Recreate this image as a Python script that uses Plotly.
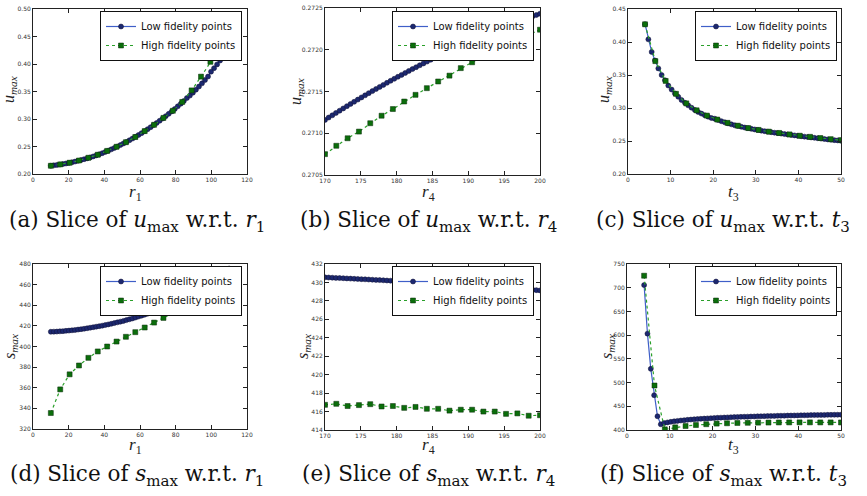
import numpy as np
import plotly.graph_objects as go

# ---------------- data ----------------
r1_low = np.linspace(10, 110, 60)
r1_high = np.linspace(10, 110, 20)
r4_low = np.linspace(170, 200, 60)
r4_high = np.linspace(170, 200, 20)
t3_low = np.linspace(4, 50, 60)
t3_high = np.linspace(4, 50, 20)

# (a) u_max vs r1
umax_r1_low = [0.2150, 0.2157, 0.2164, 0.2172, 0.2181, 0.2191, 0.2201, 0.2213, 0.2226, 0.2240,
               0.2254, 0.2269, 0.2284, 0.2301, 0.2319, 0.2338, 0.2358, 0.2379, 0.2401, 0.2424,
               0.2448, 0.2473, 0.2499, 0.2526, 0.2554, 0.2583, 0.2613, 0.2644, 0.2676, 0.2709,
               0.2743, 0.2778, 0.2814, 0.2851, 0.2889, 0.2928, 0.2968, 0.3009, 0.3051, 0.3094,
               0.3138, 0.3183, 0.3230, 0.3278, 0.3328, 0.3380, 0.3425, 0.3478, 0.3533, 0.3590,
               0.3648, 0.3709, 0.3772, 0.3860, 0.3925, 0.3993, 0.4063, 0.4135, 0.4210, 0.4288]
umax_r1_high = [0.2150, 0.2175, 0.2205, 0.2245, 0.2295, 0.2350, 0.2420, 0.2495, 0.2578, 0.2672,
                0.2780, 0.2895, 0.3020, 0.3150, 0.3310, 0.3520, 0.3770, 0.4040, 0.4290, 0.4600]

# (b) u_max vs r4
umax_r4_low = [0.271160, 0.271188, 0.271215, 0.271243, 0.271270, 0.271297, 0.271324, 0.271351,
               0.271377, 0.271403, 0.271429, 0.271454, 0.271480, 0.271505, 0.271530, 0.271555,
               0.271579, 0.271604, 0.271628, 0.271652, 0.271676, 0.271699, 0.271722, 0.271746,
               0.271769, 0.271791, 0.271814, 0.271836, 0.271858, 0.271880, 0.271901, 0.271923,
               0.271944, 0.271965, 0.271986, 0.272006, 0.272026, 0.272046, 0.272066, 0.272086,
               0.272105, 0.272124, 0.272143, 0.272162, 0.272180, 0.272199, 0.272217, 0.272235,
               0.272253, 0.272270, 0.272288, 0.272304, 0.272321, 0.272338, 0.272354, 0.272370,
               0.272386, 0.272402, 0.272417, 0.272432]
umax_r4_high = [0.27075, 0.27085, 0.27094, 0.27102, 0.27112, 0.27121, 0.27129, 0.27138, 0.27146, 0.27154,
                0.27162, 0.27169, 0.27178, 0.27185, 0.27192, 0.27198, 0.27205, 0.27212, 0.27218, 0.27224]

# (c) u_max vs t3
umax_t3_low = [0.4270, 0.4040, 0.3850, 0.3720, 0.3600, 0.3500, 0.3420, 0.3340, 0.3280, 0.3220,
               0.3170, 0.3120, 0.3080, 0.3040, 0.3005, 0.2970, 0.2940, 0.2915, 0.2890, 0.2868,
               0.2848, 0.2838, 0.2818, 0.2800, 0.2783, 0.2767, 0.2752, 0.2738, 0.2726, 0.2715,
               0.2704, 0.2694, 0.2684, 0.2675, 0.2666, 0.2657, 0.2649, 0.2641, 0.2633, 0.2626,
               0.2619, 0.2612, 0.2605, 0.2598, 0.2591, 0.2585, 0.2578, 0.2572, 0.2566, 0.2560,
               0.2554, 0.2548, 0.2542, 0.2536, 0.2530, 0.2524, 0.2518, 0.2513, 0.2509, 0.2504]
umax_t3_high = [0.4268, 0.3710, 0.3410, 0.3215, 0.3070, 0.2965, 0.2885, 0.2825, 0.2775, 0.2732,
                0.2696, 0.2668, 0.2642, 0.2622, 0.2600, 0.2580, 0.2563, 0.2545, 0.2528, 0.2514]

# (d) s_max vs r1
smax_r1_low = [414.3, 414.4, 414.5, 414.7, 414.9, 415.2, 415.4, 415.7, 416.0, 416.4,
               416.8, 417.2, 417.7, 418.2, 418.7, 419.2, 419.7, 420.2, 420.8, 421.4,
               422.0, 422.7, 423.4, 424.1, 424.8, 425.6, 426.4, 427.2, 428.1, 429.0,
               429.9, 430.8, 431.8, 432.8, 433.8, 434.8, 435.9, 437.0, 438.1, 439.3,
               440.5, 441.7, 443.0, 444.3, 445.7, 447.1, 448.6, 450.1, 451.7, 453.4,
               455.1, 456.9, 458.8, 460.8, 462.9, 465.1, 467.4, 469.8, 472.4, 475.6]
smax_r1_high = [335.5, 358.4, 373.0, 381.6, 389.0, 395.2, 400.0, 404.8, 409.4, 413.9,
                418.4, 423.2, 427.7, 432.6, 437.7, 443.5, 449.5, 456.0, 463.0, 471.0]

# (e) s_max vs r4
smax_r4_low = [430.550, 430.532, 430.513, 430.494, 430.475, 430.456, 430.437, 430.417, 430.397, 430.378,
               430.357, 430.337, 430.317, 430.296, 430.275, 430.254, 430.233, 430.211, 430.190, 430.168,
               430.146, 430.123, 430.101, 430.078, 430.056, 430.033, 430.009, 429.986, 429.963, 429.939,
               429.915, 429.891, 429.866, 429.842, 429.817, 429.792, 429.767, 429.742, 429.716, 429.691,
               429.665, 429.639, 429.613, 429.586, 429.560, 429.533, 429.506, 429.479, 429.451, 429.424,
               429.396, 429.368, 429.340, 429.311, 429.283, 429.254, 429.225, 429.196, 429.167, 429.137]
smax_r4_high = [416.73, 416.84, 416.60, 416.70, 416.80, 416.55, 416.60, 416.40, 416.50, 416.30,
                416.30, 416.10, 416.20, 416.20, 416.00, 416.00, 415.75, 415.80, 415.55, 415.60]

# (f) s_max vs t3
smax_t3_low = [705.5, 603.2, 529.0, 473.4, 429.0, 412.0, 414.5, 416.0, 417.2, 418.3,
               419.2, 420.0, 420.7, 421.4, 422.0, 422.6, 423.1, 423.6, 424.1, 424.5,
               424.9, 425.3, 425.7, 426.0, 426.3, 426.6, 426.9, 427.2, 427.5, 427.7,
               428.0, 428.2, 428.4, 428.6, 428.8, 429.0, 429.2, 429.4, 429.6, 429.7,
               429.9, 430.1, 430.2, 430.4, 430.5, 430.7, 430.8, 431.0, 431.1, 431.2,
               431.4, 431.5, 431.6, 431.7, 431.8, 431.9, 432.0, 432.1, 432.2, 432.3]
smax_t3_high = [725.3, 493.8, 401.4, 405.6, 408.4, 410.5, 412.2, 413.5, 414.2, 414.8,
                415.2, 415.5, 415.7, 415.9, 416.0, 416.1, 416.1, 416.0, 416.0, 415.9]

captions = [
    "(a) Slice of <i>u</i><sub>max</sub> w.r.t. <i>r</i><sub>1</sub>",
    "(b) Slice of <i>u</i><sub>max</sub> w.r.t. <i>r</i><sub>4</sub>",
    "(c) Slice of <i>u</i><sub>max</sub> w.r.t. <i>t</i><sub>3</sub>",
    "(d) Slice of <i>s</i><sub>max</sub> w.r.t. <i>r</i><sub>1</sub>",
    "(e) Slice of <i>s</i><sub>max</sub> w.r.t. <i>r</i><sub>4</sub>",
    "(f) Slice of <i>s</i><sub>max</sub> w.r.t. <i>t</i><sub>3</sub>",
]
x_titles = ["<i>r</i><sub>1</sub>", "<i>r</i><sub>4</sub>", "<i>t</i><sub>3</sub>"] * 2
y_titles = ["<i>u<sub>max</sub></i>"] * 3 + ["<i>s<sub>max</sub></i>"] * 3
low_name = "Low fidelity points"
high_name = "High fidelity points"

panels = [
    (r1_low, umax_r1_low, r1_high, umax_r1_high),
    (r4_low, umax_r4_low, r4_high, umax_r4_high),
    (t3_low, umax_t3_low, t3_high, umax_t3_high),
    (r1_low, smax_r1_low, r1_high, smax_r1_high),
    (r4_low, smax_r4_low, r4_high, smax_r4_high),
    (t3_low, smax_t3_low, t3_high, smax_t3_high),
]

# ---------------- layout / styling ----------------
W, H = 867, 496
px_x = [(33, 247), (325, 540), (628, 841), (33, 247), (325, 540), (627, 841)]
px_y = [(9, 174), (8, 175), (9, 174), (264, 429), (264, 430), (264, 430)]
x_ranges = [[0, 120], [170, 200], [0, 50], [0, 120], [170, 200], [0, 50]]
y_ranges = [[0.20, 0.50], [0.2705, 0.2725], [0.20, 0.45], [320, 480], [414, 432], [400, 750]]
x_dt = [20, 5, 10, 20, 5, 10]
y_dt = [0.05, 0.0005, 0.05, 20, 2, 50]
y_fmt = [".2f", ".4f", ".2f", "d", "d", "d"]
leg_right = [242, 534, 837, 242, 534, 837]
leg_top = [11, 11, 11, 266, 266, 266]
cap_x = [137, 428, 723, 137, 428, 723]
cap_y = [222, 222, 222, 475, 475, 475]
xt_pos = [(135, 193), (428, 193), (733, 193), (135, 446), (428, 446), (733, 446)]
yt_pos = [(10, 90), (296, 92), (605, 90), (10, 347), (303, 347), (607, 347)]

LOW_LINE = "#3f5fc8"
LOW_MARK = "#1c2870"
HIGH_LINE = "#2aa02a"
HIGH_MARK = "#0b6e0b"

fig = go.Figure()
layout = dict(
    template="none",
    width=W, height=H, margin=dict(l=0, r=0, t=0, b=0, pad=0),
    paper_bgcolor="white", plot_bgcolor="white", showlegend=True,
    font=dict(family="DejaVu Sans", color="#222"),
)
annotations = []
for i, (xl, yl, xh, yh) in enumerate(panels):
    n = "" if i == 0 else str(i + 1)
    xa, ya, lg = "x" + n, "y" + n, "legend" + n
    fig.add_trace(go.Scatter(
        x=xl, y=yl, name=low_name, mode="lines+markers", xaxis=xa, yaxis=ya, legend=lg,
        line=dict(color=LOW_LINE, width=1.2),
        marker=dict(symbol="circle", size=5, color=LOW_MARK, line=dict(color="#111133", width=0.5)),
    ))
    fig.add_trace(go.Scatter(
        x=xh, y=yh, name=high_name, mode="lines+markers", xaxis=xa, yaxis=ya, legend=lg,
        line=dict(color=HIGH_LINE, width=1.2, dash="3px,3px"),
        marker=dict(symbol="square", size=5, color=HIGH_MARK, line=dict(color="#0a2a0a", width=0.5)),
    ))
    axis_common = dict(
        automargin=False,
        showline=True, linecolor="#222", linewidth=1, mirror="allticks",
        ticks="inside", ticklen=4, tickcolor="#222", tickwidth=1,
        showgrid=False, zeroline=False,
        tickfont=dict(family="DejaVu Sans", size=6, color="#333"),
    )
    x0, x1 = px_x[i]
    y0, y1 = px_y[i]
    layout["xaxis" + n] = dict(
        axis_common, domain=[x0 / W, x1 / W], anchor=ya, range=x_ranges[i],
        tick0=x_ranges[i][0], dtick=x_dt[i],
    )
    layout["yaxis" + n] = dict(
        axis_common, domain=[1 - y1 / H, 1 - y0 / H], anchor=xa, range=y_ranges[i],
        tick0=y_ranges[i][0], dtick=y_dt[i], tickformat=y_fmt[i],
    )
    layout[lg] = dict(
        x=leg_right[i] / W, y=1 - leg_top[i] / H, xanchor="right", yanchor="top",
        bgcolor="white", bordercolor="#111", borderwidth=1,
        font=dict(family="DejaVu Sans", size=10, color="#111"),
        tracegroupgap=0, itemwidth=30,
    )
    # axis titles
    annotations.append(dict(
        text=x_titles[i], x=xt_pos[i][0] / W, y=1 - xt_pos[i][1] / H, xref="paper", yref="paper",
        xanchor="center", yanchor="middle", showarrow=False,
        font=dict(family="Liberation Serif", size=17, color="#222"),
    ))
    annotations.append(dict(
        text=y_titles[i], x=yt_pos[i][0] / W, y=1 - yt_pos[i][1] / H, xref="paper", yref="paper",
        xanchor="center", yanchor="middle", showarrow=False, textangle=-90,
        font=dict(family="Liberation Serif", size=16, color="#222"),
    ))
    # sub-figure caption
    annotations.append(dict(
        text=captions[i], x=cap_x[i] / W, y=1 - cap_y[i] / H, xref="paper", yref="paper",
        xanchor="center", yanchor="middle", showarrow=False,
        font=dict(family="DejaVu Serif", size=21.5, color="#111"),
    ))
layout["annotations"] = annotations
fig.update_layout(**layout)
fig.write_html("out.html", post_script="document.body.style.margin='0';",
               config={"displayModeBar": False})
